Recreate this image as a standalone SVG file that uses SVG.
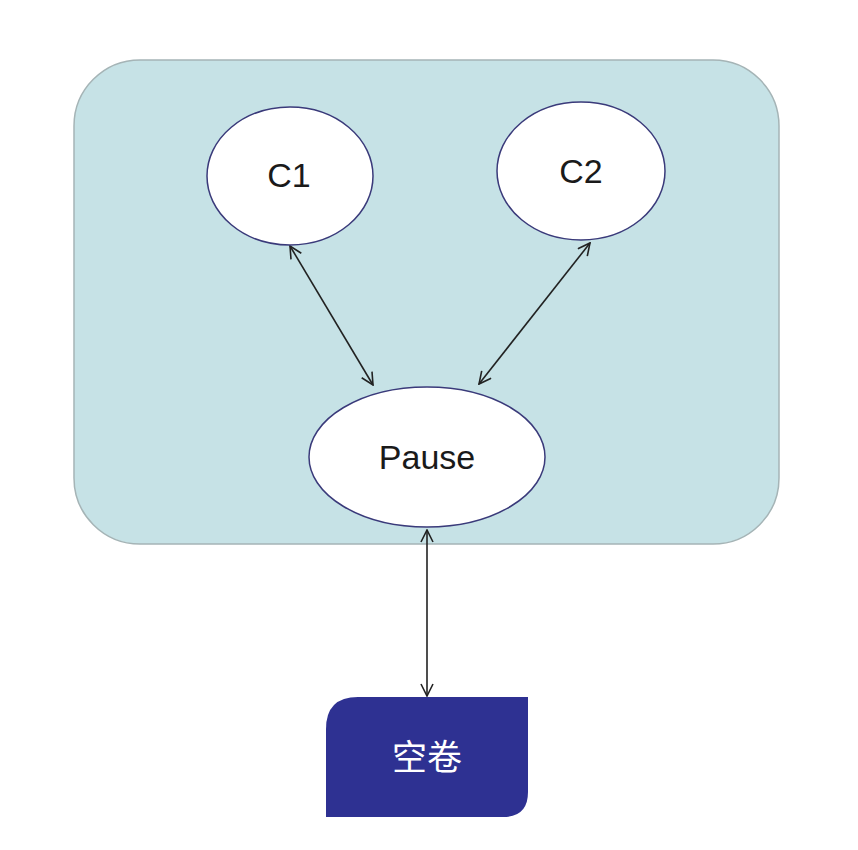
<svg xmlns="http://www.w3.org/2000/svg" width="858" height="850" viewBox="0 0 858 850">
<style>
.node{fill:#ffffff;stroke:#3a3a7a;stroke-width:1.5}
.lbl{font-family:"Liberation Sans",Arial,sans-serif;font-size:34px;fill:#1a1a1a;text-anchor:middle;dominant-baseline:central}
.conn{stroke:#222;stroke-width:1.6;fill:none;marker-start:url(#ah);marker-end:url(#ah)}
</style>
<defs>
<marker id="ah" viewBox="0 0 14 14" refX="13" refY="7" markerWidth="14" markerHeight="14" markerUnits="userSpaceOnUse" orient="auto-start-reverse">
<path d="M1,1 L13,7 L1,13" fill="none" stroke="#222" stroke-width="1.6"/>
</marker>
</defs>
<rect width="858" height="850" fill="#ffffff"/>
<g id="container">
<rect x="74" y="60" width="705" height="484" rx="66" ry="66" fill="#c6e2e6" stroke="#a5b4b6" stroke-width="1.5"/>
</g>
<g id="connectors">
<line class="conn" x1="290" y1="246" x2="373" y2="385"/>
<line class="conn" x1="590" y1="243" x2="479" y2="384"/>
<line class="conn" x1="427" y1="530" x2="427" y2="696"/>
</g>
<g id="C1">
<ellipse class="node" cx="290" cy="176" rx="83" ry="69"/>
<text class="lbl" x="289" y="175">C1</text>
</g>
<g id="C2">
<ellipse class="node" cx="581" cy="171" rx="84" ry="69"/>
<text class="lbl" x="581" y="171">C2</text>
</g>
<g id="Pause">
<ellipse class="node" cx="427" cy="457" rx="118" ry="70"/>
<text class="lbl" x="427" y="457">Pause</text>
</g>
<g id="volume">
<path d="M358,697 L528,697 L528,792 Q528,817 503,817 L326,817 L326,729 Q326,697 358,697 Z" fill="#2e3192"/>
<text x="427" y="757" font-family="'Liberation Sans','Noto Sans CJK SC',sans-serif" font-size="35" fill="#ffffff" text-anchor="middle" dominant-baseline="central">空卷</text>
</g>
</svg>
